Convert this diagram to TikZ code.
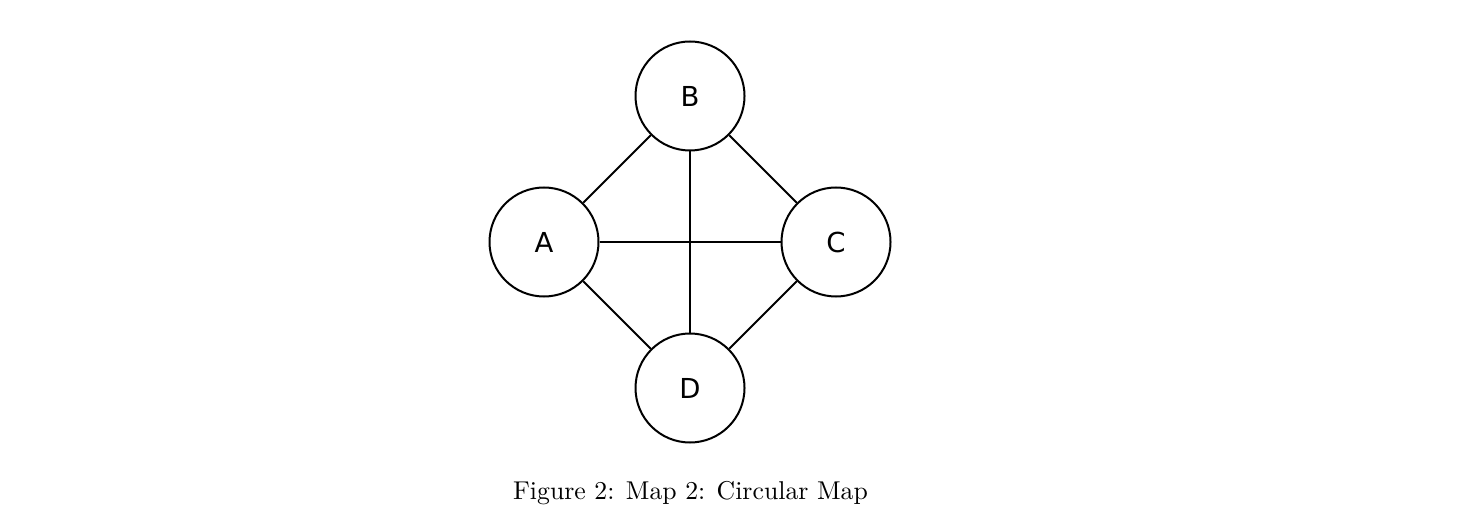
\documentclass[tikz,border=0pt]{standalone}
\usepackage{fontspec}
\newfontfamily\labelfont{DejaVu Sans}
\begin{document}
\begin{tikzpicture}[x=0.4pt,y=-0.4pt,
  city/.style={circle,draw,line width=0.8pt,minimum size=43.6pt,inner sep=0pt,font=\labelfont\fontsize{11}{13}\selectfont},
  road/.style={line width=0.8pt}]
\useasboundingbox (0,0) rectangle (1477,525);
\node[city] (B) at (690,96) {B};
\node[city] (A) at (544,242) {A};
\node[city] (C) at (836,242) {C};
\node[city] (D) at (690,388) {D};
\draw[road] (A) -- (B);
\draw[road] (B) -- (C);
\draw[road] (C) -- (D);
\draw[road] (D) -- (A);
\draw[road] (A) -- (C);
\draw[road] (B) -- (D);
\node[anchor=base,inner sep=0pt,font=\fontsize{10.3}{12}\selectfont] (cap) at (690.5,499) {Figure 2: Map 2: Circular Map};
\end{tikzpicture}
\end{document}
